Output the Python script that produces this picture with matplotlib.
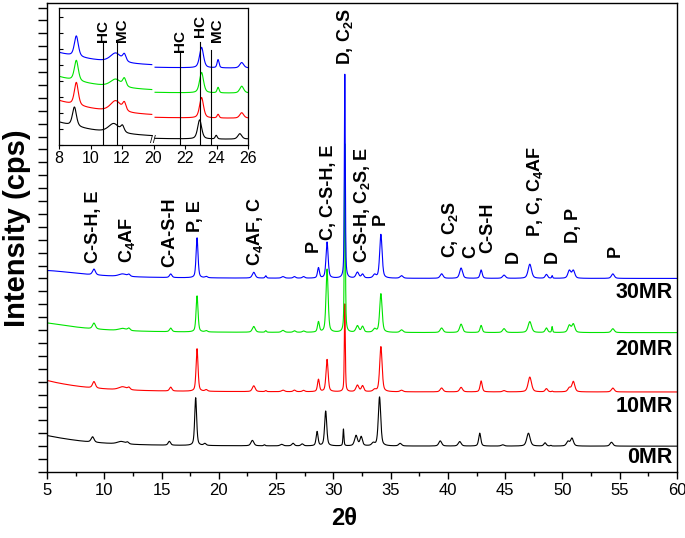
import numpy as np
import matplotlib
matplotlib.use("Agg")
import matplotlib.pyplot as plt
from matplotlib.ticker import MultipleLocator
from matplotlib import transforms

plt.rcParams["font.family"] = ["Liberation Sans", "DejaVu Sans"]
plt.rcParams["mathtext.fontset"] = "custom"
plt.rcParams["mathtext.rm"] = "Liberation Sans:bold"
plt.rcParams["mathtext.bf"] = "Liberation Sans:bold"
plt.rcParams["mathtext.it"] = "Liberation Sans:bold"
plt.rcParams["mathtext.default"] = "bf"

# ---- data ----
samples = ["0MR", "10MR", "20MR", "30MR"]
colors = ["black", "#ff0000", "#00e400", "#0000ff"]

peak_pos = [9.1, 11.6, 12.15, 15.8, 18.1, 18.9, 23.05, 24.1, 25.6, 26.6, 27.4,
            28.7, 29.45, 31.0, 32.1, 32.55, 33.6, 34.15, 35.95, 39.45, 41.15,
            42.9, 44.9, 47.15, 48.6, 49.1, 50.6, 50.95, 54.4]
peak_fwhm = [0.3, 0.8, 0.25, 0.25, 0.2, 0.25, 0.3, 0.15, 0.3, 0.25, 0.25,
             0.2, 0.22, 0.1, 0.3, 0.25, 0.3, 0.25, 0.3, 0.3, 0.3,
             0.22, 0.3, 0.35, 0.25, 0.1, 0.3, 0.3, 0.3]

h_0mr = [0.42, 0.2, 0.13, 0.3, 3.7, 0.15, 0.42, 0.08, 0.12, 0.2, 0.15,
         1.1, 2.7, 1.3, 0.8, 0.7, 0.2, 3.8, 0.2, 0.4, 0.35,
         1.0, 0.1, 1.0, 0.25, 0.05, 0.35, 0.6, 0.3]
h_10mr = [0.5, 0.24, 0.17, 0.3, 3.3, 0.12, 0.45, 0.08, 0.12, 0.12, 0.1,
          0.95, 2.5, 6.8, 0.5, 0.45, 0.15, 3.5, 0.12, 0.3, 0.35,
          0.85, 0.1, 1.15, 0.25, 0.05, 0.3, 0.8, 0.3]
h_20mr = [0.45, 0.17, 0.17, 0.28, 2.8, 0.1, 0.45, 0.12, 0.15, 0.12, 0.1,
          0.8, 4.9, 14.6, 0.5, 0.45, 0.25, 3.0, 0.2, 0.35, 0.65,
          0.55, 0.3, 0.85, 0.35, 0.45, 0.55, 0.65, 0.3]
h_30mr = [0.45, 0.2, 0.15, 0.28, 3.1, 0.1, 0.45, 0.18, 0.12, 0.12, 0.12,
          0.8, 2.8, 15.8, 0.45, 0.3, 0.25, 3.4, 0.2, 0.35, 0.8,
          0.65, 0.25, 1.1, 0.3, 0.2, 0.6, 0.6, 0.35]
heights = [h_0mr, h_10mr, h_20mr, h_30mr]

peak_shift = [-0.12, 0.0, 0.0, 0.0]
main_offset = [2.0, 6.2, 10.8, 15.0]
inset_offset = [0.10, 0.56, 1.11, 1.66]
low_angle_amp = [0.4, 0.5, 0.3, 0.1]
hump_amp = [0.55, 0.55, 0.55, 0.55]

phase_text = ["C-S-H, E", "C$_4$AF", "C-A-S-H", "P, E", "C$_4$AF, C", "P",
              "C, C-S-H, E", "D, C$_2$S", "C-S-H, C$_2$S, E", "P", "C, C$_2$S",
              "C", "C-S-H", "D", "P, C, C$_4$AF", "D", "D, P", "P"]
phase_x = [9.1, 12.0, 15.75, 18.0, 23.2, 28.25, 29.6, 31.05, 32.5, 34.1,
           40.2, 42.0, 43.5, 45.7, 47.6, 49.1, 51.0, 54.65]
phase_y = [16.2, 16.2, 15.9, 18.6, 16.0, 17.05, 18.0, 31.55, 16.2, 19.15,
           16.6, 16.6, 17.0, 16.2, 18.2, 16.2, 17.75, 16.7]

mark_text = ["HC", "MC", "HC", "HC", "MC"]
mark_x = [10.8, 11.7, 21.7, 22.95, 23.65]


def pattern(x, hts, shift, low_amp, hump):
    y = low_amp / (1 + ((x - 4.0) / 1.5) ** 2) + hump / (1 + ((x - 5.0) / 4.0) ** 2)
    for p, w, h in zip(peak_pos, peak_fwhm, hts):
        d = (x - p - shift) / w
        y = y + h * (0.5 / (1 + 4 * d ** 2) + 0.5 * np.exp(-4 * np.log(2) * d ** 2))
    return y


def inset_x(x):
    # broken axis: 8-14 kept, 20-26 pulled back by 6
    return np.where(x <= 14, x, x - 6)


fig = plt.figure(figsize=(6.85, 5.38), dpi=100)
ax = fig.add_axes([47 / 685, 66 / 538, 630 / 685, 469 / 538])

x = np.arange(5, 60.0001, 0.01)
for i in range(4):
    y = pattern(x, heights[i], peak_shift[i], low_angle_amp[i], hump_amp[i])
    ax.plot(x, y + main_offset[i], color=colors[i], lw=0.8)

ax.set_xlim(5, 60)
ax.set_ylim(0, 36.35)
ax.xaxis.set_major_locator(MultipleLocator(5))
ax.xaxis.set_minor_locator(MultipleLocator(2.5))
ax.yaxis.set_major_locator(MultipleLocator(1))
ax.tick_params(axis="x", which="major", direction="out", length=5, width=1, labelsize=12, pad=3)
ax.tick_params(axis="x", which="minor", direction="out", length=3, width=1)
ax.tick_params(axis="y", which="major", direction="out", length=6.5, width=1, labelleft=False)
for s in ax.spines.values():
    s.set_linewidth(1.0)

ax.set_xlabel("2θ", fontsize=17, fontweight="bold")
ax.xaxis.set_label_coords(0.471, -0.075)
ax.set_ylabel("Intensity (cps)", fontsize=21, fontweight="bold")
ax.yaxis.set_label_coords(-0.026, 0.52)

for t, px, py in zip(phase_text, phase_x, phase_y):
    ax.text(px, py, t, rotation=90, ha="center", va="bottom", fontsize=13, fontweight="bold")

lbl_y = [1.09, 5.04, 9.46, 13.95]
trans = transforms.blended_transform_factory(ax.transAxes, ax.transData)
for name, ly in zip(samples, lbl_y):
    ax.text(0.993, ly, name, transform=trans, ha="right", va="center", fontsize=15.5, fontweight="bold")

# ---- inset ----
ins = fig.add_axes([59 / 685, 393 / 538, 189 / 685, 137 / 538])
x_left = np.arange(8, 13.9, 0.01)
x_right = np.arange(20.1, 26.0001, 0.01)
for i in range(4):
    for xs in (x_left, x_right):
        y = pattern(xs, heights[i], peak_shift[i], low_angle_amp[i], hump_amp[i])
        ins.plot(inset_x(xs), y + inset_offset[i], color=colors[i], lw=0.8)

ins.set_xlim(8, 20)
ins.set_ylim(0, 3.0)
ins.set_xticks([8, 10, 12, 14, 16, 18, 20])
ins.set_xticklabels(["8", "10", "12", "20", "22", "24", "26"])
ins.yaxis.set_major_locator(MultipleLocator(0.35))
ins.tick_params(axis="x", direction="out", length=3, width=0.8, labelsize=11.5, pad=1.5)
ins.tick_params(axis="y", direction="in", length=3, width=0.8, labelleft=False)
for s in ins.spines.values():
    s.set_linewidth(0.9)
ins.text(13.95, 0.035, "//", transform=transforms.blended_transform_factory(ins.transData, ins.transAxes),
         ha="center", va="center", fontsize=7.5)

line_top = [0.745, 0.745, 0.67, 0.75, 0.69]
text_x = [10.8, 12.0, 21.7, 22.95, 24.0]
text_y = [0.75, 0.75, 0.68, 0.79, 0.75]
itrans = transforms.blended_transform_factory(ins.transData, ins.transAxes)
for t, mx, top, tx, ty in zip(mark_text, mark_x, line_top, text_x, text_y):
    ins.plot([inset_x(mx), inset_x(mx)], [0, top], transform=itrans, color="black", lw=0.8)
    ins.text(float(inset_x(tx)), ty, t, transform=itrans, rotation=90, ha="center", va="bottom",
             fontsize=11, fontweight="bold")

fig.savefig("out.png", dpi=100)
